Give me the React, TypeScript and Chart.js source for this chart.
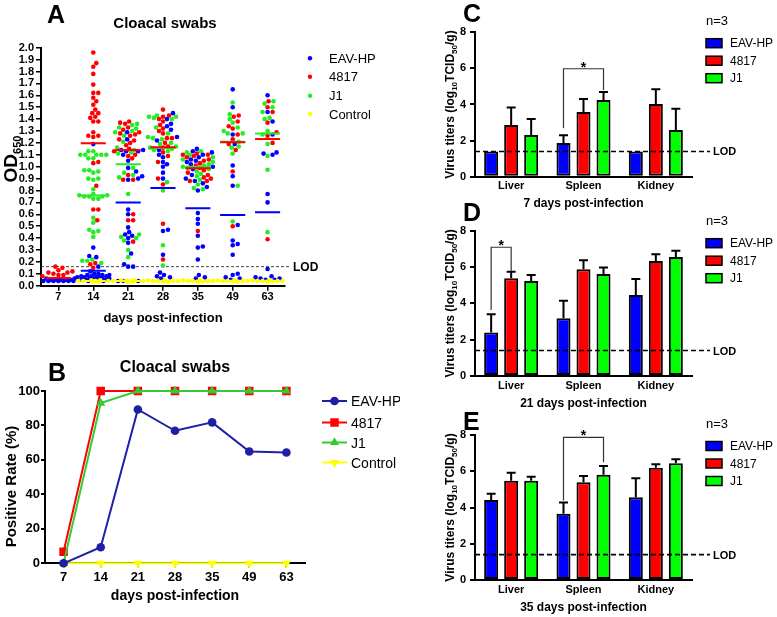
import React, { useEffect, useRef } from 'react';
import { Chart, registerables } from 'chart.js';

Chart.register(...registerables);

const FONT = 'Arial, "Liberation Sans", Helvetica, sans-serif';

// ---------------- shared categories ----------------
const days = ['7', '14', '21', '28', '35', '49', '63'];
const tissues = ['Liver', 'Spleen', 'Kidney'];
const groupNames = ['EAV-HP', '4817', 'J1', 'Control'];

// ---------------- Panel A: OD650 of cloacal swabs (one list per day) ----------------
const eavOD: number[][] = [
  [0.06, 0.06, 0.05, 0.05, 0.05, 0.05, 0.05, 0.04, 0.04, 0.04, 0.04, 0.04, 0.04, 0.04],
  [1.19, 0.32, 0.25, 0.24, 0.16, 0.12, 0.10, 0.10, 0.09, 0.09, 0.09, 0.08, 0.08, 0.08, 0.07, 0.07, 0.07, 0.07, 0.06, 0.06, 0.06, 0.06, 0.05, 0.05, 0.05, 0.05, 0.04, 0.04],
  [1.29, 1.23, 1.14, 1.14, 1.13, 1.13, 1.10, 1.05, 0.99, 0.96, 0.92, 0.90, 0.89, 0.64, 0.60, 0.49, 0.45, 0.43, 0.42, 0.40, 0.36, 0.27, 0.18, 0.16, 0.16, 0.04, 0.04, 0.04],
  [1.45, 1.40, 1.36, 1.34, 1.31, 1.25, 1.22, 1.14, 1.10, 1.08, 1.04, 1.02, 1.00, 0.95, 0.90, 0.47, 0.46, 0.26, 0.11, 0.09, 0.08, 0.07, 0.06],
  [1.15, 1.13, 1.12, 1.10, 1.08, 1.06, 1.05, 1.04, 1.02, 1.00, 0.98, 0.93, 0.90, 0.88, 0.86, 0.83, 0.80, 0.61, 0.56, 0.52, 0.42, 0.33, 0.32, 0.22, 0.09, 0.07, 0.06],
  [1.65, 1.50, 1.27, 1.19, 1.01, 0.92, 0.84, 0.51, 0.38, 0.35, 0.34, 0.26, 0.10, 0.09, 0.07, 0.06, 0.05],
  [1.60, 1.46, 1.38, 1.27, 1.12, 1.11, 1.10, 0.77, 0.70, 0.14, 0.08, 0.07, 0.06, 0.06, 0.05, 0.05],
];
const r4817OD: number[][] = [
  [0.16, 0.15, 0.13, 0.12, 0.11, 0.11, 0.10, 0.09, 0.09, 0.08],
  [1.96, 1.87, 1.84, 1.78, 1.69, 1.62, 1.62, 1.58, 1.55, 1.52, 1.48, 1.45, 1.45, 1.42, 1.41, 1.38, 1.38, 1.29, 1.26, 1.26, 1.25, 1.04, 1.03, 0.84, 0.64, 0.64, 0.55, 0.19, 0.18, 0.15],
  [1.38, 1.37, 1.36, 1.33, 1.31, 1.29, 1.28, 1.27, 1.26, 1.23, 1.22, 1.20, 1.18, 1.15, 1.13, 1.10, 1.09, 1.07, 0.93, 0.89, 0.89, 0.60, 0.55, 0.55, 0.37],
  [1.48, 1.43, 1.42, 1.40, 1.38, 1.35, 1.32, 1.30, 1.28, 1.24, 1.24, 1.20, 1.17, 1.16, 1.12, 1.09, 1.04, 0.90, 0.85, 0.52, 0.22],
  [1.11, 1.10, 1.10, 1.09, 1.08, 1.06, 1.05, 1.03, 1.01, 0.99, 0.97, 0.95, 0.93, 0.91, 0.90, 0.88, 0.88, 0.46],
  [1.43, 1.42, 1.38, 1.34, 1.32, 1.27, 1.23, 1.19, 1.14, 0.96, 0.50],
  [1.55, 1.50, 1.46, 1.37, 1.29, 1.26, 1.20, 0.39],
];
const j1OD: number[][] = [
  [],
  [1.13, 1.13, 1.10, 1.10, 1.10, 1.10, 1.10, 1.07, 1.07, 0.97, 0.97, 0.96, 0.95, 0.90, 0.90, 0.89, 0.81, 0.77, 0.76, 0.76, 0.75, 0.75, 0.75, 0.73, 0.73, 0.57, 0.53, 0.47, 0.46, 0.45, 0.41, 0.22, 0.21, 0.21, 0.19],
  [1.36, 1.35, 1.33, 1.32, 1.30, 1.29, 1.26, 1.21, 1.16, 1.14, 1.12, 1.11, 0.99, 0.95, 0.93, 0.91, 0.77, 0.43, 0.41, 0.40, 0.38, 0.30, 0.24],
  [1.43, 1.42, 1.42, 1.41, 1.40, 1.33, 1.28, 1.25, 1.24, 1.23, 1.20, 1.19, 1.17, 1.16, 1.15, 1.14, 1.13, 0.87, 0.80, 0.34, 0.17],
  [1.13, 1.12, 1.10, 1.08, 1.06, 1.04, 1.02, 1.01, 1.00, 0.99, 0.98, 0.96, 0.94, 0.92, 0.89, 0.85, 0.82, 0.81],
  [1.54, 1.44, 1.40, 1.37, 1.33, 1.30, 1.28, 1.28, 1.21, 1.17, 1.16, 1.11, 0.84, 0.54],
  [1.55, 1.53, 1.50, 1.46, 1.41, 1.40, 1.30, 1.27, 1.19, 1.09, 0.975, 0.45],
];
const controlOD: number[][] = [
  [],
  [0.045, 0.04, 0.04, 0.04, 0.035, 0.035, 0.04, 0.045],
  [0.045, 0.04, 0.04, 0.04, 0.035, 0.035, 0.04, 0.045],
  [0.045, 0.04, 0.04, 0.04, 0.035, 0.035, 0.04, 0.045],
  [0.045, 0.04, 0.04, 0.04, 0.035, 0.035, 0.04, 0.045],
  [0.045, 0.04, 0.04, 0.04, 0.035, 0.035, 0.04, 0.045],
  [0.045, 0.04, 0.04, 0.04, 0.035, 0.035, 0.04, 0.045],
];
const eavODMean = [0.045, 0.126, 0.70, 0.82, 0.65, 0.595, 0.617];
const r4817ODMean = [0.065, 1.197, 1.14, 1.163, 0.986, 1.205, 1.233];
const j1ODMean: (number | null)[] = [null, 0.757, 1.02, 1.158, 1.0, 1.21, 1.28];
const controlODMean: (number | null)[] = [null, 0.04, 0.04, 0.04, 0.04, 0.04, 0.04];
const lodOD = 0.16;

// ---------------- Panel B: positive rate (%) ----------------
const eavRate = [0, 9.3, 89.3, 76.9, 81.8, 64.9, 64.3];
const r4817Rate = [6.7, 100, 100, 100, 100, 100, 100];
const j1Rate = [0, 93, 100, 100, 100, 100, 100];
const controlRate = [0, 0, 0, 0, 0, 0, 0];

// ---------------- Panels C-E: virus titers (log10 TCID50/g) ----------------
const lodTiter = 1.4;
const d7Eav = [1.4, 1.87, 1.4];
const d7EavErr = [0, 0.42, 0];
const d7R4817 = [2.86, 3.58, 4.03];
const d7R4817Err = [0.98, 0.72, 0.81];
const d7J1 = [2.31, 4.25, 2.59];
const d7J1Err = [0.89, 0.44, 1.18];
const d7Bracket = { group: 1, from: 0, to: 2, top: 5.98, leftEnd: 2.68, rightEnd: 4.8 };

const d21Eav = [2.40, 3.18, 4.46];
const d21EavErr = [1.0, 0.97, 0.88];
const d21R4817 = [5.38, 5.88, 6.33];
const d21R4817Err = [0.36, 0.49, 0.37];
const d21J1 = [5.23, 5.62, 6.55];
const d21J1Err = [0.33, 0.35, 0.35];
const d21Bracket = { group: 0, from: 0, to: 1, top: 7.09, leftEnd: 3.63, rightEnd: 5.8 };

const d35Eav = [4.41, 3.66, 4.56];
const d35EavErr = [0.35, 0.61, 1.05];
const d35R4817 = [5.48, 5.39, 6.20];
const d35R4817Err = [0.44, 0.35, 0.18];
const d35J1 = [5.48, 5.81, 6.44];
const d35J1Err = [0.22, 0.48, 0.22];
const d35Bracket = { group: 1, from: 0, to: 2, top: 7.87, leftEnd: 4.38, rightEnd: 6.49 };

// ---------------- styles ----------------
const dotColors = ['#0000ff', '#ff0000', '#22ee22', '#ffff00'];
const lineColors = ['#1f1fa6', '#ff0000', '#33cc33', '#ffff00'];
const barColors = ['#0000ff', '#ff0000', '#00ff00'];

type Box = { left: number; top: number; width: number; height: number };
type Plot = { l: number; t: number; r: number; b: number };

function paddingFor(box: Box, plot: Plot, xH: number) {
  return {
    left: 0,
    top: plot.t - box.top,
    right: box.left + box.width - plot.r,
    bottom: box.top + box.height - plot.b - xH,
  };
}

const bold = (size: number) => ({ family: FONT, size, weight: 'bold' as const });

function txt(ctx: CanvasRenderingContext2D, box: Box, s: string, x: number, y: number, size: number,
  o: { bold?: boolean; align?: CanvasTextAlign } = {}) {
  ctx.save();
  ctx.font = `${o.bold === false ? '' : 'bold '}${size}px ${FONT}`;
  ctx.fillStyle = '#000';
  ctx.textAlign = o.align || 'left';
  ctx.textBaseline = 'alphabetic';
  ctx.fillText(s, x - box.left, y - box.top + size * 0.358);
  ctx.restore();
}

function richV(ctx: CanvasRenderingContext2D, box: Box, segs: [string, boolean][], cx: number, cy: number, size: number, sub: number) {
  ctx.save();
  ctx.translate(cx - box.left, cy - box.top);
  ctx.rotate(-Math.PI / 2);
  ctx.fillStyle = '#000';
  ctx.textBaseline = 'alphabetic';
  ctx.textAlign = 'left';
  const fM = `bold ${size}px ${FONT}`;
  const fS = `bold ${sub}px ${FONT}`;
  let total = 0;
  const ws = segs.map(([t, s]) => { ctx.font = s ? fS : fM; const w = ctx.measureText(t).width; total += w; return w; });
  let x = -total / 2;
  const base = size * 0.358;
  segs.forEach(([t, s], i) => {
    ctx.font = s ? fS : fM;
    ctx.fillText(t, x, s ? base + size * 0.22 : base);
    x += ws[i];
  });
  ctx.restore();
}

function marker(ctx: CanvasRenderingContext2D, style: string, x: number, y: number, r: number, color: string) {
  ctx.save();
  ctx.fillStyle = color;
  ctx.beginPath();
  if (style === 'circle') ctx.arc(x, y, r, 0, Math.PI * 2);
  else if (style === 'rect') { const s = r * Math.SQRT1_2; ctx.rect(x - s, y - s, 2 * s, 2 * s); }
  else {
    const dir = style === 'triangle' ? 1 : -1;
    for (let k = 0; k < 3; k++) {
      const a = (k * 2 * Math.PI) / 3;
      const px = x + Math.sin(a) * r;
      const py = y - dir * Math.cos(a) * r;
      if (k === 0) ctx.moveTo(px, py); else ctx.lineTo(px, py);
    }
    ctx.closePath();
  }
  ctx.fill();
  ctx.restore();
}

// beeswarm layout: horizontal offsets (pixels) so that dots do not overlap
function swarm(vals: number[], unitY: number, d: number, maxHalf: number): number[] {
  const order = vals.map((_, i) => i).sort((a, b) => vals[a] - vals[b]);
  const placed: { x: number; y: number }[] = [];
  const out = new Array(vals.length).fill(0);
  const cands: number[] = [0];
  for (let k = 1; k <= maxHalf; k++) cands.push(k, -k);
  for (const i of order) {
    const y = vals[i] * unitY;
    let best = 0;
    let bestD = -1;
    for (const c of cands) {
      let m = Infinity;
      for (const p of placed) {
        const dy = p.y - y;
        if (Math.abs(dy) >= d) continue;
        const dist = Math.hypot(p.x - c, dy);
        if (dist < m) m = dist;
      }
      if (m >= d) { best = c; break; }
      if (m > bestD) { bestD = m; best = c; }
    }
    placed.push({ x: best, y });
    out[i] = best;
  }
  return out;
}

// ---------------- Panel A ----------------
const A_BOX: Box = { left: 0, top: 0, width: 400, height: 330 };
const A_PLOT: Plot = { l: 41, t: 47.7, r: 285, b: 285.7 };

function makeA(canvas: HTMLCanvasElement) {
  const box = A_BOX, plot = A_PLOT, xH = 40.1;
  const unitX = (plot.r - plot.l) / days.length;
  const unitY = (plot.b - plot.t) / 2;
  const series = [eavOD, r4817OD, j1OD, controlOD];
  const offs: number[][][] = series.map(() => days.map(() => [] as number[]));
  days.forEach((_, i) => {
    const all: number[] = [];
    const owner: number[] = [];
    series.forEach((s, k) => s[i].forEach((v) => { all.push(v); owner.push(k); }));
    const o = swarm(all, unitY, 4.4, 16);
    all.forEach((_, j) => offs[owner[j]][i].push(o[j] / unitX));
  });
  const pts = (k: number) => series[k].flatMap((vals, i) => vals.map((v, j) => ({ x: i + offs[k][i][j], y: v })));
  const meanLine = (m: (number | null)[]) =>
    m.flatMap((v, i) => (v == null ? [] : [{ x: i - 0.36, y: v }, { x: i + 0.36, y: v }, { x: i + 0.5, y: null }]));
  const means = [eavODMean, r4817ODMean, j1ODMean, controlODMean];
  const lineOrder = [1, 0, 2, 3];
  const datasets: any[] = [];
  lineOrder.forEach((k) => datasets.push({
    type: 'line', label: groupNames[k] + ' mean', data: meanLine(means[k]), borderColor: dotColors[k],
    borderWidth: 2, pointRadius: 0, spanGaps: false, order: 0, clip: false,
  }));
  [3, 0, 1, 2].forEach((k, n) => datasets.push({
    type: 'scatter', label: groupNames[k], data: pts(k), pointBackgroundColor: dotColors[k],
    backgroundColor: dotColors[k], pointBorderWidth: 0, pointRadius: 2.3, order: 1 + n, clip: false,
  }));

  const decor = {
    id: 'decorA',
    beforeDatasetsDraw(chart: any) {
      const ctx = chart.ctx as CanvasRenderingContext2D;
      const y = chart.scales.y.getPixelForValue(lodOD);
      ctx.save();
      ctx.strokeStyle = '#444';
      ctx.lineWidth = 1;
      ctx.setLineDash([3, 2]);
      ctx.beginPath();
      ctx.moveTo(chart.chartArea.left, y);
      ctx.lineTo(chart.chartArea.right + 5, y);
      ctx.stroke();
      ctx.restore();
      txt(ctx, { ...box, left: 0, top: 0 }, 'LOD', chart.chartArea.right + 8, y, 12);
    },
    afterDraw(chart: any) {
      const ctx = chart.ctx as CanvasRenderingContext2D;
      txt(ctx, box, 'A', 47, 14, 25);
      txt(ctx, box, 'Cloacal swabs', 165, 23, 15, { align: 'center' });
      richV(ctx, box, [['OD', false], ['650', true]], 10, 159, 19, 11);
      const ly = [58.3, 76.7, 95.7, 114];
      groupNames.forEach((g, k) => {
        marker(ctx, 'circle', 310 - box.left, ly[k] - box.top, 2.2, dotColors[k]);
        txt(ctx, box, g, 329, ly[k], 13, { bold: false });
      });
    },
  };

  return new Chart(canvas, {
    type: 'scatter',
    data: { datasets },
    plugins: [decor],
    options: {
      animation: false, responsive: false, events: [],
      layout: { padding: paddingFor(box, plot, xH) },
      plugins: { legend: { display: false }, tooltip: { enabled: false } },
      scales: {
        x: {
          type: 'linear', min: -0.5, max: days.length - 0.5,
          afterBuildTicks: (s: any) => { s.ticks = days.map((_, i) => ({ value: i })); },
          afterFit: (s: any) => { s.height = xH; },
          ticks: { callback: (v: any) => days[Math.round(Number(v))], font: bold(11), color: '#000', padding: 0, autoSkip: false, maxRotation: 0 },
          grid: { drawOnChartArea: false, drawTicks: true, tickLength: 5, color: '#000', lineWidth: 1.5 },
          border: { display: true, color: '#000', width: 2 },
          title: { display: true, text: 'days post-infection', font: bold(13), color: '#000', padding: 0 },
        },
        y: {
          min: 0, max: 2,
          afterFit: (s: any) => { s.width = plot.l - box.left; },
          ticks: { stepSize: 0.1, maxTicksLimit: 30, autoSkip: false, callback: (v: any) => Number(v).toFixed(1), font: bold(11), color: '#000', padding: 2 },
          grid: { drawOnChartArea: false, drawTicks: true, tickLength: 5, color: '#000', lineWidth: 1.5 },
          border: { display: true, color: '#000', width: 2 },
        },
      },
    } as any,
  });
}

// ---------------- Panel B ----------------
const B_BOX: Box = { left: 0, top: 330, width: 400, height: 287 };
const B_PLOT: Plot = { l: 45, t: 391, r: 305, b: 563.3 };

function makeB(canvas: HTMLCanvasElement) {
  const box = B_BOX, plot = B_PLOT, xH = 41.6;
  const rates = [eavRate, r4817Rate, j1Rate, controlRate];
  const styles = ['circle', 'rect', 'triangle', 'triangleDown'];
  const radii = [4.3, 6, 5.2, 5.2];
  const orders = [0, 2, 1, 3];
  const datasets = rates.map((d, k) => ({
    label: groupNames[k], data: d, borderColor: lineColors[k], backgroundColor: lineColors[k],
    pointBackgroundColor: lineColors[k], pointBorderColor: lineColors[k], pointBorderWidth: 0,
    pointStyle: styles[k] === 'triangleDown' ? 'triangle' : styles[k], pointRotation: styles[k] === 'triangleDown' ? 180 : 0,
    pointRadius: radii[k], borderWidth: 2, order: orders[k], clip: false, tension: 0,
  }));
  const decor = {
    id: 'decorB',
    afterDraw(chart: any) {
      const ctx = chart.ctx as CanvasRenderingContext2D;
      txt(ctx, box, 'B', 48, 372, 25);
      txt(ctx, box, 'Cloacal swabs', 175, 366, 16, { align: 'center' });
      richV(ctx, box, [['Positive Rate (%)', false]], 11, 486.5, 15, 10);
      const ly = [401, 422.5, 442.5, 462.5];
      groupNames.forEach((g, k) => {
        const y = ly[k] - box.top;
        ctx.save();
        ctx.strokeStyle = lineColors[k];
        ctx.lineWidth = 2;
        ctx.beginPath();
        ctx.moveTo(322 - box.left, y);
        ctx.lineTo(347 - box.left, y);
        ctx.stroke();
        ctx.restore();
        marker(ctx, styles[k], 334.5 - box.left, y, radii[k], lineColors[k]);
        txt(ctx, box, g, 351, ly[k], 14, { bold: false });
      });
    },
  };
  return new Chart(canvas, {
    type: 'line',
    data: { labels: days, datasets },
    plugins: [decor],
    options: {
      animation: false, responsive: false, events: [],
      layout: { padding: paddingFor(box, plot, xH) },
      plugins: { legend: { display: false }, tooltip: { enabled: false } },
      scales: {
        x: {
          type: 'category', offset: true,
          afterFit: (s: any) => { s.height = xH; },
          ticks: { font: bold(13), color: '#000', padding: 2, autoSkip: false, maxRotation: 0 },
          grid: { offset: false, drawOnChartArea: false, drawTicks: true, tickLength: 4, color: '#000', lineWidth: 2 },
          border: { display: true, color: '#000', width: 2 },
          title: { display: true, text: 'days post-infection', font: bold(14), color: '#000', padding: 0 },
        },
        y: {
          min: 0, max: 100,
          afterFit: (s: any) => { s.width = plot.l - box.left; },
          ticks: { stepSize: 20, font: bold(13), color: '#000', padding: 1 },
          grid: { drawOnChartArea: false, drawTicks: true, tickLength: 4, color: '#000', lineWidth: 2 },
          border: { display: true, color: '#000', width: 2 },
        },
      },
    } as any,
  });
}

// ---------------- Panels C-E ----------------
type Bracket = { group: number; from: number; to: number; top: number; leftEnd: number; rightEnd: number };
type BarSpec = {
  box: Box; plot: Plot; xH: number; letter: string; letterY: number; legendY: number; title: string;
  vals: number[][]; errs: number[][]; bracket: Bracket;
};

const barSpecs: BarSpec[] = [
  {
    box: { left: 400, top: 0, width: 377, height: 215 }, plot: { l: 475, t: 32.3, r: 692, b: 176.7 }, xH: 33.8,
    letter: 'C', letterY: 13.5, legendY: 20.7, title: '7 days post-infection',
    vals: [d7Eav, d7R4817, d7J1], errs: [d7EavErr, d7R4817Err, d7J1Err], bracket: d7Bracket,
  },
  {
    box: { left: 400, top: 200, width: 377, height: 215 }, plot: { l: 475, t: 230.7, r: 692, b: 376 }, xH: 34.5,
    letter: 'D', letterY: 212, legendY: 220.7, title: '21 days post-infection',
    vals: [d21Eav, d21R4817, d21J1], errs: [d21EavErr, d21R4817Err, d21J1Err], bracket: d21Bracket,
  },
  {
    box: { left: 400, top: 400, width: 377, height: 217 }, plot: { l: 475, t: 435, r: 692, b: 580 }, xH: 34.5,
    letter: 'E', letterY: 421, legendY: 423.5, title: '35 days post-infection',
    vals: [d35Eav, d35R4817, d35J1], errs: [d35EavErr, d35R4817Err, d35J1Err], bracket: d35Bracket,
  },
];

function makeBar(spec: BarSpec) {
  return (canvas: HTMLCanvasElement) => {
    const { box, plot, xH } = spec;
    const datasets = spec.vals.map((d, k) => ({
      label: groupNames[k], data: d, backgroundColor: barColors[k], borderColor: '#000', borderWidth: 2,
      borderSkipped: false, categoryPercentage: 0.83, barPercentage: 0.7,
    }));
    const decor = {
      id: 'decorBar',
      afterDatasetsDraw(chart: any) {
        const ctx = chart.ctx as CanvasRenderingContext2D;
        const ys = chart.scales.y;
        const area = chart.chartArea;
        // error bars (upper)
        spec.errs.forEach((errs, k) => {
          const meta = chart.getDatasetMeta(k);
          errs.forEach((e, j) => {
            if (!e) return;
            const x = meta.data[j].x;
            const y0 = ys.getPixelForValue(spec.vals[k][j]);
            const y1 = ys.getPixelForValue(spec.vals[k][j] + e);
            ctx.save();
            ctx.strokeStyle = '#000';
            ctx.lineWidth = 2;
            ctx.beginPath();
            ctx.moveTo(x, y0);
            ctx.lineTo(x, y1);
            ctx.moveTo(x - 4.5, y1);
            ctx.lineTo(x + 4.5, y1);
            ctx.stroke();
            ctx.restore();
          });
        });
        // LOD line
        const ly = ys.getPixelForValue(lodTiter);
        ctx.save();
        ctx.strokeStyle = '#000';
        ctx.lineWidth = 1.6;
        ctx.setLineDash([5, 3]);
        ctx.beginPath();
        ctx.moveTo(area.left, ly);
        ctx.lineTo(area.right + 18, ly);
        ctx.stroke();
        ctx.restore();
        txt(ctx, { ...box, left: 0, top: 0 }, 'LOD', area.right + 21, ly, 11);
        // significance bracket
        const b = spec.bracket;
        const xa = chart.getDatasetMeta(b.from).data[b.group].x;
        const xb = chart.getDatasetMeta(b.to).data[b.group].x;
        const yt = ys.getPixelForValue(b.top);
        ctx.save();
        ctx.strokeStyle = '#333';
        ctx.lineWidth = 1.2;
        ctx.beginPath();
        ctx.moveTo(xa, ys.getPixelForValue(b.leftEnd));
        ctx.lineTo(xa, yt);
        ctx.lineTo(xb, yt);
        ctx.lineTo(xb, ys.getPixelForValue(b.rightEnd));
        ctx.stroke();
        ctx.font = `bold 14px ${FONT}`;
        ctx.fillStyle = '#000';
        ctx.textAlign = 'center';
        ctx.textBaseline = 'alphabetic';
        ctx.fillText('*', (xa + xb) / 2, yt + 3);
        ctx.restore();
      },
      afterDraw(chart: any) {
        const ctx = chart.ctx as CanvasRenderingContext2D;
        const area = chart.chartArea;
        txt(ctx, box, spec.letter, 463, spec.letterY, 25);
        richV(ctx, box, [['Virus titers (log', false], ['10', true], ['TCID', false], ['50', true], ['/g)', false]],
          450, box.top + (area.top + area.bottom) / 2, 12, 8);
        txt(ctx, box, 'n=3', 706, spec.legendY, 13, { bold: false });
        [0, 1, 2].forEach((k) => {
          const cy = spec.legendY + 22.5 + k * 17.5;
          ctx.save();
          ctx.fillStyle = barColors[k];
          ctx.strokeStyle = '#000';
          ctx.lineWidth = 1.5;
          ctx.fillRect(706 - box.left, cy - 4.5 - box.top, 16, 9);
          ctx.strokeRect(706 - box.left, cy - 4.5 - box.top, 16, 9);
          ctx.restore();
          txt(ctx, box, groupNames[k], 730, cy, 12, { bold: false });
        });
      },
    };
    return new Chart(canvas, {
      type: 'bar',
      data: { labels: tissues, datasets },
      plugins: [decor],
      options: {
        animation: false, responsive: false, events: [],
        layout: { padding: paddingFor(box, plot, xH) },
        plugins: { legend: { display: false }, tooltip: { enabled: false } },
        scales: {
          x: {
            type: 'category', offset: true,
            afterFit: (s: any) => { s.height = xH; },
            ticks: { font: bold(11), color: '#000', padding: 3, autoSkip: false, maxRotation: 0 },
            grid: { display: false, drawTicks: false },
            border: { display: true, color: '#000', width: 2 },
            title: { display: true, text: spec.title, font: bold(12), color: '#000', padding: 0 },
          },
          y: {
            min: 0, max: 8,
            afterFit: (s: any) => { s.width = plot.l - box.left; },
            ticks: { stepSize: 2, font: bold(11), color: '#000', padding: 4 },
            grid: { drawOnChartArea: false, drawTicks: true, tickLength: 5, color: '#000', lineWidth: 2 },
            border: { display: true, color: '#000', width: 2 },
          },
        },
      } as any,
    });
  };
}

function ChartCanvas({ box, make }: { box: Box; make: (c: HTMLCanvasElement) => Chart }) {
  const ref = useRef<HTMLCanvasElement>(null);
  useEffect(() => {
    const ch = make(ref.current as HTMLCanvasElement);
    return () => ch.destroy();
  }, []);
  return (
    <canvas
      ref={ref}
      width={box.width}
      height={box.height}
      style={{ position: 'absolute', left: box.left, top: box.top, width: box.width, height: box.height }}
    />
  );
}

export default function App() {
  return (
    <div style={{ position: 'fixed', left: 0, top: 0, width: 777, height: 617, background: '#fff', overflow: 'hidden' }}>
      <ChartCanvas box={A_BOX} make={makeA} />
      <ChartCanvas box={B_BOX} make={makeB} />
      {barSpecs.map((s, i) => (
        <ChartCanvas key={i} box={s.box} make={makeBar(s)} />
      ))}
    </div>
  );
}
